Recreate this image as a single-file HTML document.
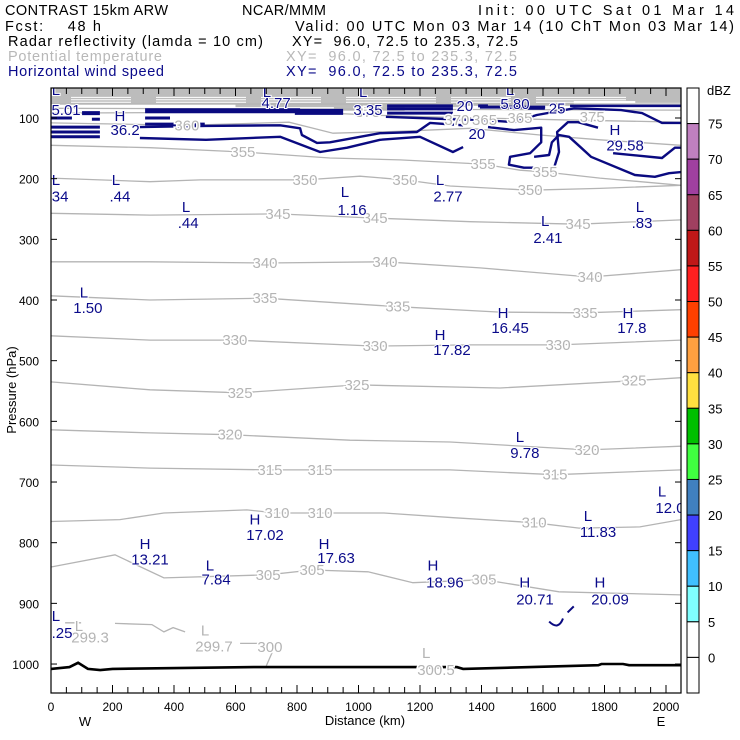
<!DOCTYPE html>
<html><head><meta charset="utf-8"><style>
html,body{margin:0;padding:0;background:#fff;}
svg{display:block;font-family:"Liberation Sans",sans-serif;}
</style></head><body>
<svg id="chart" width="740" height="740" viewBox="0 0 740 740" xmlns="http://www.w3.org/2000/svg">
<g font-size="14.5">
<text x="5" y="15" textLength="163">CONTRAST 15km ARW</text>
<text x="242" y="15" textLength="84">NCAR/MMM</text>
<text x="478" y="15" textLength="256">Init: 00 UTC Sat 01 Mar 14</text>
<text x="5" y="31" textLength="96" xml:space="preserve">Fcst:    48 h</text>
<text x="295" y="31" textLength="439">Valid: 00 UTC Mon 03 Mar 14 (10 ChT Mon 03 Mar 14)</text>
<text x="8" y="46" textLength="255">Radar reflectivity (lamda = 10 cm)</text>
<text x="292" y="46" textLength="226" xml:space="preserve">XY=  96.0, 72.5 to 235.3, 72.5</text>
<text x="8" y="61" fill="#b8b8b8" textLength="154">Potential temperature</text>
<text x="286" y="61" fill="#b8b8b8" textLength="231" xml:space="preserve">XY=  96.0, 72.5 to 235.3, 72.5</text>
<text x="8" y="76" fill="#0a0a8a" textLength="156">Horizontal wind speed</text>
<text x="286" y="76" fill="#0a0a8a" textLength="231" xml:space="preserve">XY=  96.0, 72.5 to 235.3, 72.5</text>
</g>
<g id="plot"></g>
<g id="cbar"></g>
</svg>
<script>
// ---- data ----
const thetaLevels = [375, 370, 365, 360, 355, 350, 345, 340, 335, 330, 325, 320, 315, 310, 305, 300, 300, 300];
const thetaKm = [
 [0,2049],[0,2049],[0,810,1135,1395,1655,2049],[0,442,774,917,1135,1363,1590,1785,2049],
 [0,322,624,907,1135,1405,1525,1607,1785,2049],[0,322,485,826,1005,1151,1298,1558,1785,2049],
 [0,322,738,1054,1363,1714,2049],[0,322,696,1086,1395,1753,2049],[0,322,696,1128,1460,1737,2049],
 [0,322,598,1054,1363,1649,2049],[0,322,615,995,1460,1896,2049],[0,322,582,972,1298,1743,2049],
 [0,322,712,875,1298,1639,2049],[0,224,367,637,735,875,1083,1314,1571,1717,1915,2049],
 [0,208,367,706,849,1031,1177,1408,1652,2049],[46,98],[208,328,367,397,436],[615,680,720,700]
];
const thetaHpa = [
 [77,77],[84,87],[92,90,97,100,103,107],[108,112,107,125,122,117,128,136,145],
 [145,149,156,166,169,176,186,189,199,211],[199,205,202,202,196,202,212,219,216,211],
 [257,260,258,265,271,275,268],[337,337,339,337,347,362,350],[393,400,397,411,420,421,416],
 [459,466,466,476,474,474,466],[535,548,553,540,545,533,528],[614,619,622,631,634,647,641],
 [672,677,680,680,680,688,680],[765,762,751,746,751,751,751,759,767,776,774,762],
 [840,820,858,853,845,848,866,861,881,886],[932,932],[933,935,947,940,947],[966,966,980,1003]
];
const windKm = [
 [289,504,745,810,816,865,907,1070,1190,1233,1340],
 [1421,1506,1594,1594,1558,1493,1489,1538,1636,1652,1646,1681,1714,1779],
 [289,504,745,875,963,1070,1200,1307,1340],
 [1089,1353,1395,1506,1580,1701,1854,1922,1987,2049],
 [1571,1620,1629,1652,1685,1724,1756,1899,1964,2010,2052],
 [1828,1987,2029,2049]
];
const windHpa = [
 [115,113,112,117,128,141,140,125,123,108,112],
 [115,120,116,140,158,164,177,182,182,156,123,107,107,116],
 [133,136,131,156,149,136,131,156,148],
 [98,103,103,107,95,84,87,92,108,108],
 [164,161,140,128,131,149,164,194,197,191,189],
 [158,166,149,149]
];
const bandKm0 = [0,0,0,0,101,133,306,306,306,793,1093,1093,1093,1389,1551,1395,1688];
const bandKm1 = [68,159,159,159,159,159,810,387,500,950,1307,1307,1307,1421,1606,1607,2049];
const bandHpa = [100,115,123,131,92,102,88,100,110,90,80,85,92,80,84,82,80];
const bandW   = [3,3,3,3,4,3,5,3,3,6,3,3,3,3,3,3,2.5];
const surfKm  = [0,60,88,120,160,200,660,1320,1340,1780,1790,1860,1880,2049];
const surfHpa = [1008,1005,998,1008,1010,1008,1005,1005,1008,1002,1000,1000,1002,1002];
const xTickLabels = [0,200,400,600,800,1000,1200,1400,1600,1800,2000];
const yTickLabels = [100,200,300,400,500,600,700,800,900,1000];
const dbzLabels = [75,70,65,60,55,50,45,40,35,30,25,20,15,10,5,0];
const dbzColors = ['#ffffff','#c080c0','#a040a0','#a04060','#c01818','#ff2020','#ff4000','#ffa040','#ffe040','#00c000','#40ff40','#4080c0','#4040ff','#40c0ff','#80ffff','#ffffff','#ffffff'];
const thetaLabels = [
 ['360',442,112],['375',1030,90],['370',1320,103],['365',1410,103],['365',1525,100],['375',1760,98],
 ['355',624,156],['355',1405,176],['355',1607,189],['350',826,202],['350',1151,202],['350',1558,219],
 ['345',738,258],['345',1054,265],['345',1714,275],['340',696,339],['340',1086,337],['340',1753,362],
 ['335',696,397],['335',1128,411],['335',1737,421],['330',598,466],['330',1054,476],['330',1649,474],
 ['325',615,553],['325',995,540],['325',1896,533],['320',582,622],['320',1743,647],
 ['315',712,680],['315',875,680],['315',1639,688],['310',735,751],['310',875,751],['310',1571,767],
 ['305',706,853],['305',849,845],['305',1408,861]
];
const thetaExtrema = [['L',91,937],['299.3',127,956],['L',501,945],['299.7',530,971],['300',712,972],['L',1220,982],['300.5',1252,1010]];
const windExtrema = [
 ['L',16,54],['5.01',49,87],['H',224,97],['36.2',241,120],['L',702,57],['4.77',732,75],['L',1015,57],['3.35',1031,87],
 ['20',1346,80],['L',1493,54],['5.80',1509,77],['25',1646,84],['H',1834,120],['29.58',1867,145],['20',1385,126],
 ['L',16,202],['.34',23,229],['L',211,202],['.44',224,229],['L',439,247],['.44',446,273],['L',956,222],['1.16',979,252],
 ['L',1265,202],['2.77',1291,229],['L',1607,270],['2.41',1616,298],['L',1915,247],['.83',1922,273],
 ['L',107,388],['1.50',120,413],['H',1470,421],['16.45',1493,446],['H',1876,421],['17.8',1889,446],
 ['H',1265,458],['17.82',1304,482],['L',1525,626],['9.78',1541,652],['L',1987,716],['12.0',2013,743],
 ['L',1746,756],['11.83',1779,782],['H',663,762],['17.02',696,787],['H',306,802],['13.21',322,828],
 ['H',888,802],['17.63',927,825],['L',517,838],['7.84',537,861],['H',1242,838],['18.96',1281,866],
 ['H',1541,866],['20.71',1574,894],['H',1785,866],['20.09',1818,894],['L',16,921],['.25',36,949]
];
// ---- axes ----
const X0=51, X1=681, Y0=88, Y1=693;
const xs = km => X0 + km*0.3075;
const ys = p => 118 + (p-100)*0.6067;
const NS='http://www.w3.org/2000/svg';
function mk(tag, attrs, parent){const e=document.createElementNS(NS,tag);for(const k in attrs)e.setAttribute(k,attrs[k]);parent.appendChild(e);return e;}
const plot=document.getElementById('plot');
const defs=mk('defs',{},plot);
const cp=mk('clipPath',{id:'clip'},defs);
mk('rect',{x:X0,y:Y0,width:X1-X0,height:Y1-Y0},cp);
const inner=mk('g',{'clip-path':'url(#clip)'},plot);
const topFill=mk('path',{d:`M${X0},${Y0}H${X1}V${ys(75)}H${xs(1900)}V${ys(72)}H${xs(1700)}V${ys(80)}H${xs(1350)}V${ys(82)}H${xs(1150)}V${ys(88)}H${xs(920)}V${ys(82)}H${xs(600)}V${ys(78)}H${X0}Z`,fill:'#bcbcbc'},inner);


[66,70,74].forEach(p=>{
  const wl=mk('line',{x1:X0+20,x2:X1-40,y1:ys(p),y2:ys(p),stroke:'#ffffff','stroke-width':1,'stroke-dasharray':'60 25 90 15'},inner);
  
  
});
function linePath(kms,ps){return kms.map((k,i)=>(i?'L':'M')+xs(k).toFixed(1)+','+ys(ps[i]).toFixed(1)).join('');}
thetaKm.forEach((kms,i)=>{
  const p=mk('path',{d:linePath(kms,thetaHpa[i]),fill:'none',stroke:'#b4b4b4','stroke-width':1.3},inner);
  
  
});
bandKm0.forEach((k,i)=>{
  const b=mk('line',{x1:xs(k),x2:xs(bandKm1[i]),y1:ys(bandHpa[i]),y2:ys(bandHpa[i]),stroke:'#0a0a80','stroke-width':bandW[i]},inner);
  
  
});
windKm.forEach((kms,i)=>{
  const p=mk('path',{d:linePath(kms,windHpa[i]),fill:'none',stroke:'#0a0a80','stroke-width':2.4,'stroke-linejoin':'round'},inner);
  
  
});
const small=mk('path',{d:`M${xs(1620)},${ys(930)}Q${xs(1650)},${ys(945)} ${xs(1665)},${ys(925)}M${xs(1680)},${ys(915)}L${xs(1700)},${ys(905)}`,fill:'none',stroke:'#0a0a80','stroke-width':2},inner);


const surf=mk('path',{d:linePath(surfKm,surfHpa),fill:'none',stroke:'#000','stroke-width':2.6},inner);


thetaLabels.forEach(t=>{
  const e=mk('text',{x:xs(t[1]),y:ys(t[2])+5,'text-anchor':'middle','font-size':15,fill:'#b4b4b4',stroke:'#fff','stroke-width':3,'paint-order':'stroke'},inner);
  e.textContent=t[0];
  
  
});
thetaExtrema.forEach(t=>{
  const e=mk('text',{x:xs(t[1]),y:ys(t[2])+5,'text-anchor':'middle','font-size':15,fill:'#b4b4b4',stroke:'#fff','stroke-width':3,'paint-order':'stroke'},inner);
  e.textContent=t[0];
  
  
});
windExtrema.forEach(t=>{
  const e=mk('text',{x:xs(t[1]),y:ys(t[2])+5,'text-anchor':'middle','font-size':15,fill:'#0a0a8a',stroke:'#fff','stroke-width':2,'paint-order':'stroke'},inner);
  e.textContent=t[0];
  
  
});
const frame=mk('rect',{x:X0,y:Y0,width:X1-X0,height:Y1-Y0,fill:'none',stroke:'#000','stroke-width':1.2},plot);


for(let k=0;k<=2000;k+=50){
  const tb=mk('line',{x1:xs(k),x2:xs(k),y1:Y1,y2:Y1-(k%200===0?8:6),stroke:'#000'},plot);
  
  
  const tt=mk('line',{x1:xs(k),x2:xs(k),y1:Y0,y2:Y0+(k%200===0?8:6),stroke:'#000'},plot);
  
  
}
xTickLabels.forEach(v=>{
  const e=mk('text',{x:xs(v),y:711,'text-anchor':'middle','font-size':12},plot);
  e.textContent=v;
  
  
});
yTickLabels.forEach(v=>{
  const l=mk('line',{x1:X0,x2:X0+6,y1:ys(v),y2:ys(v),stroke:'#000'},plot);
  
  
  const r=mk('line',{x1:X1,x2:X1-6,y1:ys(v),y2:ys(v),stroke:'#000'},plot);
  
  
  const e=mk('text',{x:39,y:ys(v)+5,'text-anchor':'end','font-size':12},plot);
  e.textContent=v;
  
  
});
const xt=mk('text',{x:365,y:725,'text-anchor':'middle','font-size':13},plot);
xt.textContent='Distance (km)';


const yt=mk('text',{x:16,y:390,'text-anchor':'middle','font-size':13,transform:'rotate(-90 16 390)'},plot);
yt.textContent='Pressure (hPa)';


const wl=mk('text',{x:85,y:726,'text-anchor':'middle','font-size':13},plot);
wl.textContent='W';


const el=mk('text',{x:661,y:726,'text-anchor':'middle','font-size':13},plot);
el.textContent='E';


const cb=document.getElementById('cbar');
const CB0=88, CBH=(693-88)/dbzColors.length;
dbzColors.forEach((c,i)=>{
  const r=mk('rect',{x:687,y:CB0+i*CBH,width:12,height:CBH,fill:c,stroke:'#000','stroke-width':1},cb);
  
  
});
dbzLabels.forEach((v,i)=>{
  const e=mk('text',{x:708,y:CB0+(i+1)*CBH+5,'font-size':13},cb);
  e.textContent=v;
  
  
});
const du=mk('text',{x:707,y:95,'font-size':13},cb);
du.textContent='dBZ';


</script>
</body></html>
